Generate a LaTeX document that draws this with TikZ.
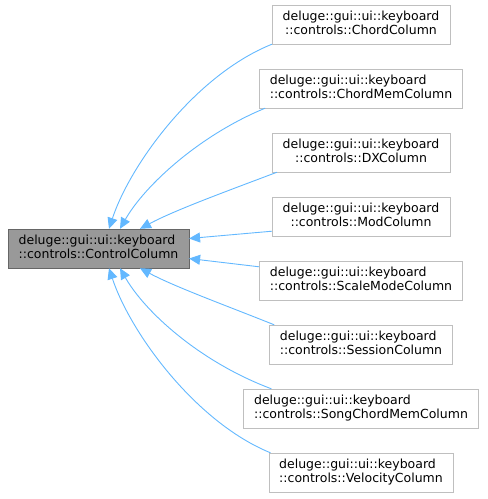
\documentclass[tikz,border=0pt]{standalone}
\usepackage{fontspec}
\setmainfont{DejaVu Sans}
\usetikzlibrary{arrows.meta}

\definecolor{edgeblue}{HTML}{63B8FF}
\definecolor{basefill}{HTML}{999999}
\definecolor{baseline}{HTML}{666666}
\definecolor{kidline}{HTML}{BFBFBF}

% first line flush left, second line centred (as graphviz does)
\newcommand{\klass}[1]{\begin{tabular}{@{}l@{}}deluge::gui::ui::keyboard\\
  \multicolumn{1}{@{}c@{}}{::controls::#1}\end{tabular}}

\begin{document}
\begin{tikzpicture}[
  x=1pt, y=-1pt,
  font=\fontsize{12.5}{14.5}\selectfont,
  base/.style={draw=baseline, fill=basefill, inner xsep=10.5pt, inner ysep=0pt, minimum height=39pt},
  kid/.style={draw=kidline, fill=white, inner xsep=10.5pt, inner ysep=0pt, minimum height=39pt},
  edge/.style={-{Triangle[length=11pt, width=10pt]}, draw=edgeblue, line width=0.9pt}
]
\useasboundingbox (0,0) rectangle (488,499);

\renewcommand{\arraystretch}{0.97}

\node[base] (ctrl) at (98.5,248.5) {\klass{ControlColumn}};

\foreach \n/\y/\cls in {
  chord/24.5/ChordColumn,
  chordmem/88.5/ChordMemColumn,
  dx/152.5/DXColumn,
  mod/216.5/ModColumn,
  scale/280.5/ScaleModeColumn,
  session/344.5/SessionColumn,
  song/408.5/SongChordMemColumn,
  velocity/472.5/VelocityColumn
} {
  \node[kid] (\n) at (361,\y) {\klass{\cls}};
}

% upper children
\draw[edge] (chord.south west) .. controls (195,75) and (130,165) .. ([xshift=10.5pt]ctrl.north);
\draw[edge] ([xshift=6pt]chordmem.south west) .. controls (200,135) and (145,185) .. ([xshift=21.5pt]ctrl.north);
\draw[edge] ([xshift=5pt]dx.south west) .. controls (230,190) and (175,210) .. ([xshift=41.5pt]ctrl.north);
\draw[edge] ([yshift=5pt]mod.south west) -- ([yshift=10pt]ctrl.east);

% lower children
\draw[edge] ([yshift=-6pt]scale.north west) -- ([yshift=-10pt]ctrl.east);
\draw[edge] ([xshift=5pt]session.north west) .. controls (230,307) and (175,287) .. ([xshift=41.5pt]ctrl.south);
\draw[edge] ([xshift=28pt]song.north west) .. controls (200,362) and (145,312) .. ([xshift=21.5pt]ctrl.south);
\draw[edge] ([xshift=2pt]velocity.north west) .. controls (195,422) and (130,332) .. ([xshift=10.5pt]ctrl.south);

\end{tikzpicture}
\end{document}
